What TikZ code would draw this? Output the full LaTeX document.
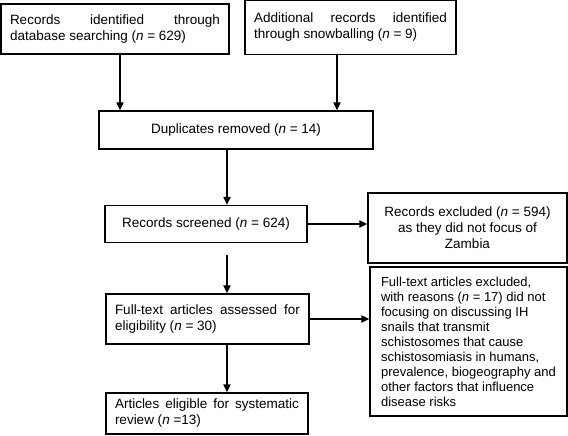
\documentclass[tikz,border=0pt]{standalone}
\usepackage{fontspec}
\setmainfont{Liberation Sans}
\usetikzlibrary{shapes,arrows,arrows.meta,calc,positioning}

\begin{document}
\begin{tikzpicture}[x=1pt, y=-1pt, line width=1.2pt,
    every node/.style={draw, rectangle, inner xsep=9pt, inner ysep=0pt, font=\fontsize{13.5}{16}\selectfont},
    flow/.style={-{Triangle[length=8pt,width=7pt]}, line width=1.8pt}]
\useasboundingbox (0,0) rectangle (568,436);

\node[text width=210, align=justify, minimum height=50] (idb) at (115,29)
    {\rightskip=16pt Records identified through database searching (\textit{n} = 629)};
\node[text width=193, align=justify, minimum height=54] (snow) at (350.5,27.5)
    {Additional records identified through snowballing (\textit{n} = 9)};
\node[minimum width=274, minimum height=38, align=center] (dup) at (236,130)
    {Duplicates removed (\textit{n} = 14)};
\node[minimum width=202, minimum height=37, align=center] (scr) at (206,224)
    {Records screened (\textit{n} = 624)};
\node[minimum width=199, minimum height=70, align=center] (rex) at (467.5,228)
    {Records excluded (\textit{n} = 594)\\as they did not focus of\\Zambia};
\node[text width=185, align=justify, minimum height=50] (fta) at (207.5,319)
    {Full-text articles assessed for eligibility (\textit{n} = 30)};
\node[align=left, minimum width=197, minimum height=149,
      font=\fontsize{13}{15}\selectfont] (ftx) at (468.5,341.5)
    {Full-text articles excluded,\\with reasons (\textit{n} = 17) did not\\focusing on discussing IH\\snails that transmit\\schistosomes that cause\\schistosomiasis in humans,\\prevalence, biogeography and\\other factors that influence\\disease risks};
\node[text width=184, align=justify, minimum height=41] (elig) at (207,413.5)
    {Articles eligible for systematic review (\textit{n} =13)};

% arrows
\draw[flow] ([xshift=5]idb.south) -- ([xshift=5]idb.south |- dup.north);
\draw[flow] ([xshift=-13.5]snow.south) -- ([xshift=-13.5]snow.south |- dup.north);
\draw[flow] ([xshift=-9]dup.south) -- ([xshift=-9]dup.south |- scr.north);
\draw[flow] (scr.east) -- (scr.east -| rex.west);
\draw[flow, shorten <=12pt] ([xshift=21]scr.south) -- ([xshift=21]scr.south |- fta.north);
\draw[flow] (fta.east) -- (fta.east -| ftx.west);
\draw[flow] ([xshift=19.5]fta.south) -- ([xshift=19.5]fta.south |- elig.north);
\end{tikzpicture}
\end{document}
